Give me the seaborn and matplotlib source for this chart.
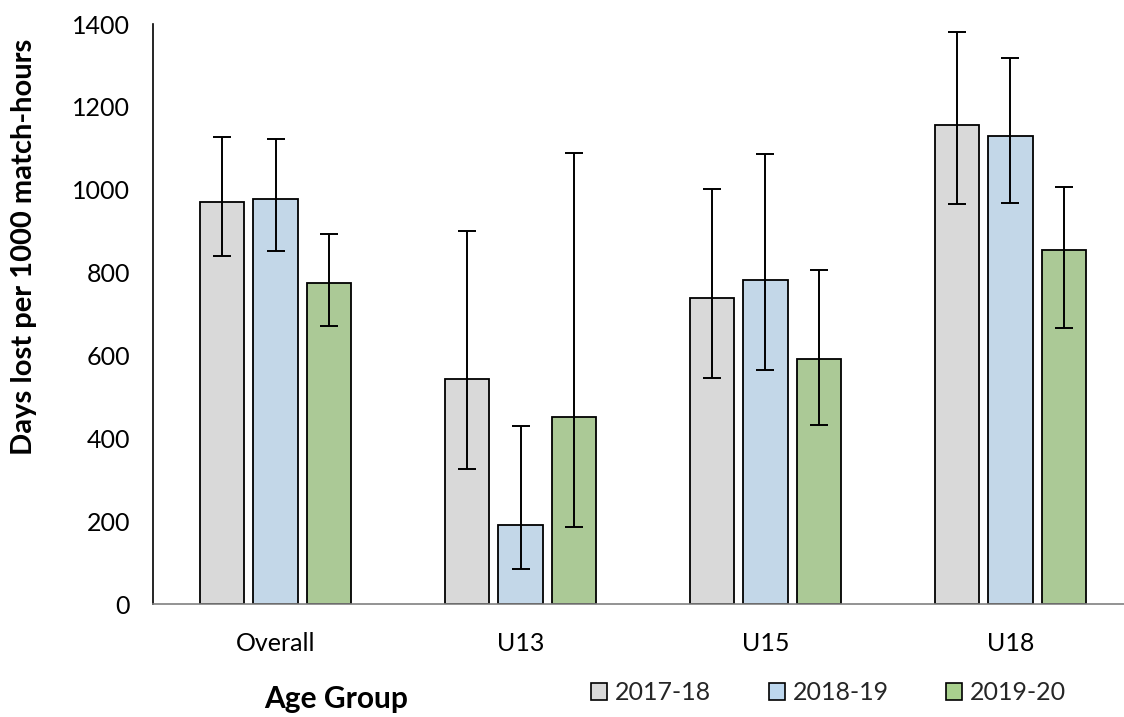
import matplotlib
matplotlib.use("Agg")
import matplotlib.pyplot as plt
from matplotlib.patches import Patch
import numpy as np
import pandas as pd
import seaborn as sns

# Days lost per 1000 match-hours, with 95% CI bounds
groups = ["Overall", "U13", "U15", "U18"]
seasons = ["2017-18", "2018-19", "2019-20"]

rate_2017 = [970, 543, 739, 1155]
rate_2018 = [977, 191, 782, 1130]
rate_2019 = [775, 452, 591, 854]

low_2017 = [840, 326, 546, 965]
low_2018 = [852, 84, 564, 968]
low_2019 = [671, 187, 433, 667]

high_2017 = [1127, 901, 1001, 1381]
high_2018 = [1122, 430, 1085, 1319]
high_2019 = [893, 1089, 806, 1006]

colors = ["#D9D9D9", "#BDD7EE", "#A9D18E"]

rates = [rate_2017, rate_2018, rate_2019]
lows = [low_2017, low_2018, low_2019]
highs = [high_2017, high_2018, high_2019]

rows = []
for s, season in enumerate(seasons):
    for g, grp in enumerate(groups):
        rows.append({"group": grp, "season": season, "value": rates[s][g],
                     "low": lows[s][g], "high": highs[s][g]})
df = pd.DataFrame(rows)

sns.set_theme(style="white")
plt.rcParams["font.family"] = ["Lato", "DejaVu Sans"]

W, H = 1124, 717
fig = plt.figure(figsize=(W / 100, H / 100), dpi=100)
ax = fig.add_axes([153 / W, (H - 604) / H, (1133 - 153) / W, 580 / H])

sns.barplot(data=df, x="group", y="value", hue="season", order=groups,
            hue_order=seasons, palette=colors, width=0.66, gap=0.18,
            errorbar=None, edgecolor="black", linewidth=1.3, legend=False,
            ax=ax)

# Asymmetric confidence intervals on each bar
bar_sets = list(ax.containers)
for s, cont in enumerate(bar_sets):
    sub = df[df["season"] == seasons[s]].set_index("group").loc[groups]
    for patch, (_, r) in zip(cont.patches, sub.iterrows()):
        xc = patch.get_x() + patch.get_width() / 2
        y = patch.get_height()
        ax.errorbar(xc, y, yerr=[[y - r["low"]], [r["high"] - y]],
                    fmt="none", ecolor="black", elinewidth=1.4,
                    capsize=6.5, capthick=1.4, zorder=5)

ax.set_ylim(0, 1400)
ax.set_yticks(np.arange(0, 1401, 200))
ax.set_xlim(-0.5, 3.5)
ax.set_xlabel("")
ax.set_ylabel("")

for side in ["top", "right"]:
    ax.spines[side].set_visible(False)
ax.spines["left"].set_color("black")
ax.spines["left"].set_linewidth(1.2)
ax.spines["bottom"].set_color("#808080")
ax.spines["bottom"].set_linewidth(1.2)

ax.tick_params(axis="y", direction="out", length=4.5, width=1.2,
               color="black", pad=12, labelsize=18, labelcolor="black")
ax.tick_params(axis="x", length=0, pad=20, labelsize=18, labelcolor="black")

fig.text(24 / W, 1 - 247 / H, "Days lost per 1000 match-hours", rotation=90,
         ha="center", va="center", fontsize=21, fontweight="bold",
         color="black")
fig.text(336 / W, 1 - 708 / H, "Age Group", ha="center", va="baseline",
         fontsize=21.5, fontweight="bold", color="black")

handles = [Patch(facecolor=c, edgecolor="black", linewidth=1.2) for c in colors]
fig.legend(handles, seasons, loc="center left",
           bbox_to_anchor=(591 / W, 1 - 693 / H), ncol=3, frameon=False,
           fontsize=18, handlelength=0.64, handleheight=0.64,
           handletextpad=0.32, columnspacing=2.3, borderpad=0,
           borderaxespad=0)

fig.savefig("out.png", dpi=100)
